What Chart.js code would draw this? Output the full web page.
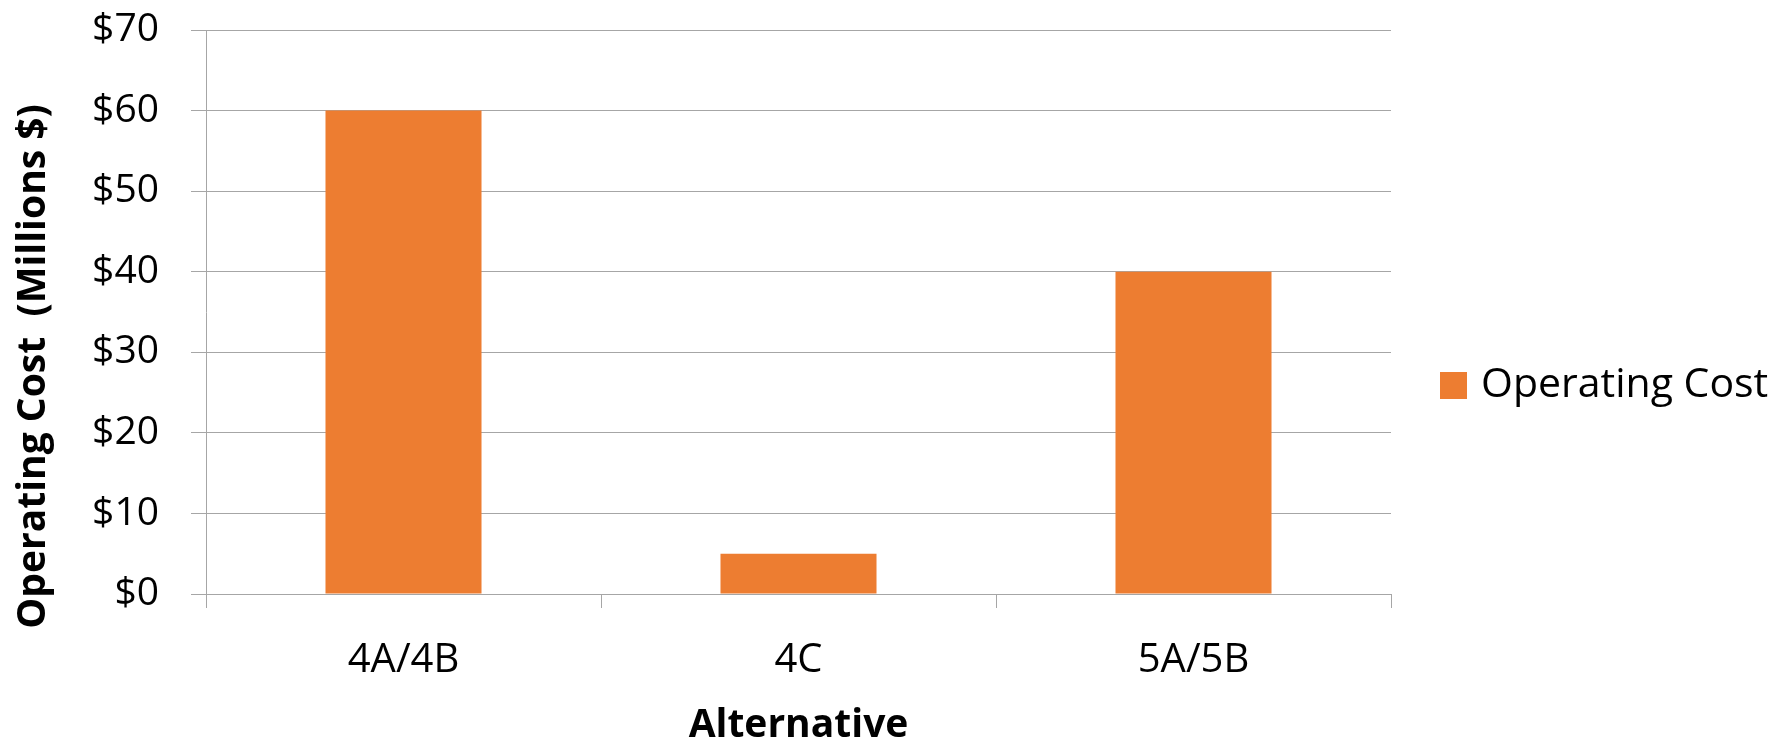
<!DOCTYPE html>
<html>
<head>
<meta charset="utf-8">
<title>Operating Cost by Alternative</title>
<script src="https://cdn.jsdelivr.net/npm/chart.js@4.4.1/dist/chart.umd.min.js"></script>
<style>
  html, body { margin: 0; padding: 0; background: #ffffff; }
  #wrap { width: 1792px; height: 741px; position: relative; }
</style>
</head>
<body>
<div id="wrap"><canvas id="costChart"></canvas></div>
<script>
// Chart data
const categories = ['4A/4B', '4C', '5A/5B'];
const operatingCost = [60, 5, 40];   // millions of dollars
const seriesLabel = 'Operating Cost';
const yTitle = 'Operating Cost  (Millions $)';
const xTitle = 'Alternative';
const yTicksMin = 0;
const yTicksMax = 70;
const yTicksStep = 10;

const barColor = '#ED7D31';
const gridColor = '#a6a6a6';
const fontFamily = '"Open Sans", "Noto Sans", sans-serif';

// legend on the right and the y title, both centred on the page height like the original slide
const sideDecor = {
    id: 'sideDecor',
    afterDraw: function (chart) {
        const ctx = chart.ctx;
        const area = chart.chartArea;
        const ds = chart.data.datasets[0];
        const cy = chart.height / 2 + 15;
        const x = area.right + 49;
        ctx.save();
        ctx.fillStyle = ds.backgroundColor;
        ctx.fillRect(x, cy - 13.5, 27, 27);
        ctx.fillStyle = '#000000';
        ctx.font = '41px ' + fontFamily;
        ctx.textAlign = 'left';
        ctx.textBaseline = 'middle';
        ctx.fillText(ds.label, x + 41, cy);

        // rotated y axis title
        ctx.translate(34, chart.height / 2 - 4);
        ctx.rotate(-Math.PI / 2);
        ctx.font = 'bold 39px ' + fontFamily;
        ctx.textAlign = 'center';
        ctx.fillText(yTitle, 0, 0);
        ctx.restore();
    }
};

const ctx = document.getElementById('costChart').getContext('2d');
window.costChart = new Chart(ctx, {
    type: 'bar',
    data: {
        labels: categories,
        datasets: [{
            label: seriesLabel,
            data: operatingCost,
            backgroundColor: barColor,
            borderWidth: 0,
            barPercentage: 0.395,
            categoryPercentage: 1.0
        }]
    },
    options: {
        responsive: true,
        maintainAspectRatio: false,
        animation: false,
        devicePixelRatio: 1,
        layout: {
            padding: { left: 0, right: 401, top: 30, bottom: 0 }
        },
        plugins: {
            legend: { display: false },
            tooltip: { enabled: false }
        },
        scales: {
            x: {
                grid: {
                    offset: true,
                    drawOnChartArea: false,
                    drawTicks: true,
                    tickLength: 14,
                    color: gridColor,
                    lineWidth: 1
                },
                border: { color: gridColor, width: 1 },
                ticks: {
                    color: '#000000',
                    padding: 29,
                    font: { family: fontFamily, size: 40 }
                },
                title: {
                    display: true,
                    text: xTitle,
                    color: '#000000',
                    padding: { top: 0, bottom: 0 },
                    font: { family: fontFamily, size: 39, weight: 'bold', lineHeight: 0.8 }
                },
                afterFit: function (scale) {
                    scale.height = 741 - 594;
                }
            },
            y: {
                min: yTicksMin,
                max: yTicksMax,
                grid: {
                    color: gridColor,
                    lineWidth: 1,
                    drawTicks: true,
                    tickLength: 15
                },
                border: { color: gridColor, width: 1 },
                ticks: {
                    stepSize: yTicksStep,
                    color: '#000000',
                    padding: 32,
                    font: { family: fontFamily, size: 39 },
                    callback: function (value) {
                        return '$' + value;
                    }
                },
                afterFit: function (scale) {
                    scale.width = 206;
                    // the top label fits inside the layout padding, no extra room needed
                    scale.paddingTop = 0;
                    scale.paddingBottom = 0;
                }
            }
        }
    },
    plugins: [sideDecor]
});
</script>
</body>
</html>
